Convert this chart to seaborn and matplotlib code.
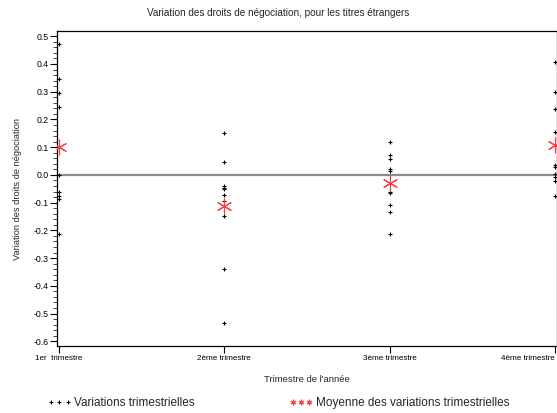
import numpy as np
import pandas as pd
import matplotlib
matplotlib.use("Agg")
import matplotlib.pyplot as plt
from matplotlib.lines import Line2D
from matplotlib.ticker import MultipleLocator, FormatStrFormatter
import seaborn as sns

# Quarterly changes in trading fees, foreign securities
trimestres = ["1er  trimestre", "2ème trimestre", "3ème trimestre", "4ème trimestre"]
t1 = [0.471, 0.345, 0.297, 0.246, 0.0, -0.061, -0.076, -0.088, -0.213]
t2 = [0.150, 0.046, -0.039, -0.046, -0.052, -0.073, -0.094, -0.148, -0.340, -0.535]
t3 = [0.119, 0.071, 0.057, 0.023, 0.014, -0.060, -0.064, -0.108, -0.132, -0.212]
t4 = [0.408, 0.298, 0.238, 0.153, 0.035, 0.030, 0.004, -0.008, -0.022, -0.075]

df = pd.DataFrame({
    "trimestre": sum([[t] * len(v) for t, v in zip(trimestres, [t1, t2, t3, t4])], []),
    "variation": t1 + t2 + t3 + t4,
})
moyennes = df.groupby("trimestre", sort=False)["variation"].mean().reindex(trimestres).reset_index()

sns.set_style("white")
plt.rcParams["font.family"] = ["Liberation Sans", "DejaVu Sans"]

fig = plt.figure(figsize=(5.57, 4.13), dpi=100)
ax = fig.add_axes([57 / 557, 1 - 346 / 413, 1 - 57 / 557, (346 - 31) / 413])

ax.axhline(0, color="#8c8c8c", lw=1.6, zorder=1)

star = (6, 2, 0)
red = "#ff3b3b"
sns.stripplot(data=df, x="trimestre", y="variation", order=trimestres, jitter=False,
              marker="+", color="black", size=3.3, linewidth=0.8, ax=ax, zorder=3)
sns.scatterplot(data=moyennes, x="trimestre", y="variation", marker=star, s=115,
                color=red, linewidth=0.8, ax=ax, zorder=4, legend=False)

ax.set_xlim(-0.0121, 3.0121)
ax.set_ylim(-0.617, 0.519)
ax.yaxis.set_major_locator(MultipleLocator(0.1))
ax.yaxis.set_minor_locator(MultipleLocator(0.02))
ax.yaxis.set_major_formatter(FormatStrFormatter("%.1f"))

for s in ax.spines.values():
    s.set_visible(True)
    s.set_color("black")
    s.set_linewidth(0.9)

ax.tick_params(axis="y", which="major", left=True, direction="out", length=5, width=0.8,
               labelsize=6.3, pad=1, colors="black")
ax.tick_params(axis="y", which="minor", left=True, direction="out", length=3, width=0.6)
ax.tick_params(axis="x", which="major", bottom=True, direction="out", length=5, width=0.8,
               labelsize=5.9, pad=1.5, colors="black")
ax.get_xticklabels()[-1].set_horizontalalignment("right")

ax.set_xlabel("Trimestre de l'année", fontsize=6.8, labelpad=9.5)
ax.set_ylabel("Variation des droits de négociation", fontsize=6.7, labelpad=8)
fig.text(0.5, 1 - 13 / 413, "Variation des droits de négociation, pour les titres étrangers",
         ha="center", va="center", fontsize=7.2)

handles = [
    Line2D([], [], linestyle="none", marker="+", color="black", markersize=3.3, markeredgewidth=0.8),
    Line2D([], [], linestyle="none", marker=star, color=red, markersize=4, markeredgewidth=0.8),
]
fig.legend(handles, ["Variations trimestrielles", "Moyenne des variations trimestrielles"],
           loc="center", bbox_to_anchor=(0.5, 1 - 403 / 413), ncol=2, frameon=False,
           numpoints=3, fontsize=8.5, handlelength=2.0, handletextpad=0.25, columnspacing=8.0)

fig.savefig("out.png", dpi=100)
